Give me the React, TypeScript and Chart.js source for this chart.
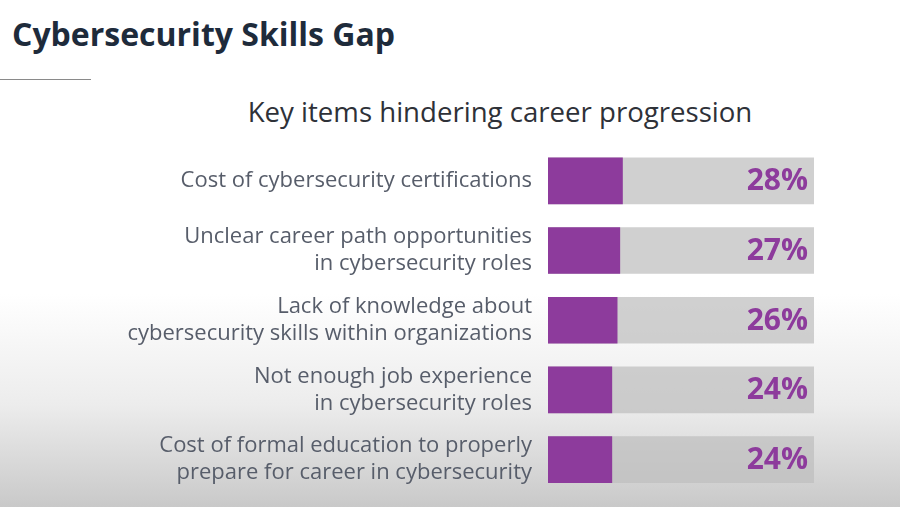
import React, { useEffect, useRef } from "react";
import Chart from "chart.js/auto";

const categories: string[][] = [
  ["Cost of cybersecurity certifications"],
  ["Unclear career path opportunities", "in cybersecurity roles"],
  ["Lack of knowledge about", "cybersecurity skills within organizations"],
  ["Not enough job experience", "in cybersecurity roles"],
  ["Cost of formal education to properly", "prepare for career in cybersecurity"],
];
const shares: number[] = [28, 27, 26, 24, 24];
const fullTrack: number[] = [100, 100, 100, 100, 100];

const PURPLE = "#8d3b9c";
const FONT = "'Open Sans', 'Noto Sans', sans-serif";

const percentLabels = {
  id: "percentLabels",
  afterDatasetsDraw(chart: any) {
    const { ctx, chartArea } = chart;
    const meta = chart.getDatasetMeta(1);
    ctx.save();
    ctx.font = `bold 30px ${FONT}`;
    ctx.fillStyle = PURPLE;
    ctx.textAlign = "right";
    ctx.textBaseline = "middle";
    meta.data.forEach((bar: any, i: number) => {
      ctx.fillText(`${shares[i]}%`, chartArea.right - 6, bar.y + 1);
    });
    ctx.restore();
  },
};

const SkillsGapChart: React.FC = () => {
  const chartRef = useRef<HTMLCanvasElement>(null);
  const chartInstance = useRef<Chart | null>(null);

  useEffect(() => {
    document.body.style.margin = "0";
    if (chartRef.current) {
      const ctx = chartRef.current.getContext("2d");
      if (ctx) {
        if (chartInstance.current) chartInstance.current.destroy();
        chartInstance.current = new Chart(ctx, {
          type: "bar",
          data: {
            labels: categories,
            datasets: [
              {
                label: "track",
                data: fullTrack,
                backgroundColor: "rgba(190,190,190,0.72)",
                barThickness: 46,
                grouped: false,
                order: 2,
              } as any,
              {
                label: "share",
                data: shares,
                backgroundColor: PURPLE,
                barThickness: 46,
                grouped: false,
                order: 1,
              } as any,
            ],
          },
          plugins: [percentLabels],
          options: {
            indexAxis: "y",
            animation: false,
            responsive: true,
            maintainAspectRatio: false,
            layout: { padding: { top: 146, right: 86, bottom: 1, left: 0 } },
            plugins: {
              legend: { display: false },
              tooltip: { enabled: false },
            },
            scales: {
              x: { display: false, min: 0, max: 100 },
              y: {
                grid: { display: false },
                border: { display: false },
                afterFit: (scale: any) => {
                  scale.width = 548;
                },
                ticks: {
                  padding: 8,
                  color: "#575d6a",
                  font: { family: FONT, size: 22, lineHeight: 1.23 },
                },
              },
            },
          },
        });
      }
    }
    return () => {
      if (chartInstance.current) {
        chartInstance.current.destroy();
        chartInstance.current = null;
      }
    };
  }, []);

  return (
    <div
      style={{
        position: "relative",
        width: 900,
        height: 507,
        overflow: "hidden",
        fontFamily: FONT,
        background:
          "linear-gradient(to bottom, #ffffff 0%, #ffffff 58%, #ececec 80%, #c9c9c9 100%)",
      }}
    >
      <div
        style={{
          position: "absolute",
          left: 12,
          top: 12,
          fontSize: 32,
          fontWeight: 700,
          color: "#1e2b3b",
          whiteSpace: "nowrap",
        }}
      >
        Cybersecurity Skills Gap
      </div>
      <div
        style={{
          position: "absolute",
          left: 0,
          top: 79,
          width: 91,
          height: 1,
          background: "#8a8a8a",
        }}
      />
      <div
        style={{
          position: "absolute",
          left: 200,
          width: 600,
          top: 92,
          textAlign: "center",
          fontSize: 27.6,
          color: "#2e3138",
          whiteSpace: "nowrap",
        }}
      >
        Key items hindering career progression
      </div>
      <div
        style={{ position: "absolute", left: 0, top: 0, width: 900, height: 516 }}
      >
        <canvas ref={chartRef} />
      </div>
    </div>
  );
};

export default function App() {
  return <SkillsGapChart />;
}
